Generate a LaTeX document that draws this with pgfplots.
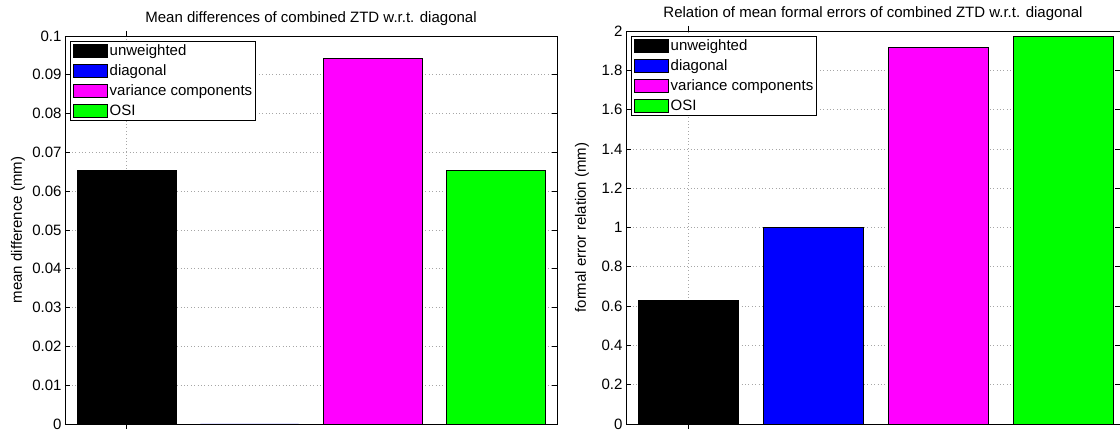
\documentclass[border=0pt]{standalone}
\usepackage{pgfplots}
\pgfplotsset{compat=1.18}
\usepackage{fontspec}
\setmainfont{Liberation Sans}
\definecolor{mymag}{rgb}{1,0,1}
\definecolor{mygreen}{rgb}{0,1,0}
\definecolor{myblue}{rgb}{0,0,1}
\newcommand{\ff}{\fontsize{15}{18}\selectfont}

\pgfplotsset{
  mybar/.style={
    scale only axis,
    xmin=0.5, ymin=0,
    xtick={1}, xticklabels={},
    grid=major,
    major grid style={dash pattern=on 0.8pt off 2.6pt, gray!70, line width=0.6pt},
    tick align=inside,
    major tick length=5pt,
    axis line style={line width=0.8pt},
    every tick/.style={black, line width=0.6pt},
    ticklabel style={font=\ff},
    /pgf/number format/assume math mode=true,
    scaled y ticks=false,
    title style={font=\ff, at={(axis description cs:0.5,1)}, anchor=center, yshift=11pt},
    ybar, bar width=0.8, bar shift=0pt,
    legend style={at={(axis description cs:0,1)}, anchor=north west, xshift=5pt, yshift=-5pt,
      draw=black, line width=1.2pt, font=\ff, inner sep=2pt, row sep=4.5pt,
      column sep=1pt,
      nodes={inner sep=1.5pt}},
    legend image code/.code={\draw[#1, draw=black, line width=0.6pt] (0pt,-6.5pt) rectangle (34pt,6.5pt);},
    legend cell align=left,
  }
}

\begin{document}
\begin{tikzpicture}
\useasboundingbox (0,0) rectangle (1120pt,438pt);
\clip (0,0) rectangle (1120pt,438pt);

\begin{axis}[mybar,
  at={(65pt,14pt)}, anchor=south west,
  width=492pt, height=388pt,
  xmax=4.5, ymax=0.1,
  ytick={0,0.01,...,0.1},
  yticklabel style={/pgf/number format/fixed, /pgf/number format/precision=2},
  title={Mean differences of combined ZTD w.r.t. diagonal},
  ylabel={mean difference (mm)},
  every axis y label/.style={at={(axis description cs:-0.0955,0.5)}, rotate=90, anchor=center, font=\ff},
]
\addplot[fill=black, draw=black] coordinates {(1,0.0655)};
\addplot[fill=myblue, draw=black] coordinates {(2,0)};
\addplot[fill=mymag, draw=black] coordinates {(3,0.0942)};
\addplot[fill=mygreen, draw=black] coordinates {(4,0.0655)};
\legend{unweighted, diagonal, variance components, OSI}
\end{axis}

\begin{axis}[mybar,
  at={(626pt,14pt)}, anchor=south west,
  width=494pt, height=393pt,
  xmax=4.452, ymax=2,
  ytick={0,0.2,...,2},
  yticklabel style={/pgf/number format/fixed, /pgf/number format/precision=1},
  title={Relation of mean formal errors of combined ZTD w.r.t. diagonal},
  ylabel={formal error relation (mm)},
  every axis y label/.style={at={(axis description cs:-0.089,0.5)}, rotate=90, anchor=center, font=\ff},
]
\addplot[fill=black, draw=black] coordinates {(1,0.63)};
\addplot[fill=myblue, draw=black] coordinates {(2,1.0)};
\addplot[fill=mymag, draw=black] coordinates {(3,1.918)};
\addplot[fill=mygreen, draw=black] coordinates {(4,1.975)};
\legend{unweighted, diagonal, variance components, OSI}
\end{axis}
\end{tikzpicture}
\end{document}
